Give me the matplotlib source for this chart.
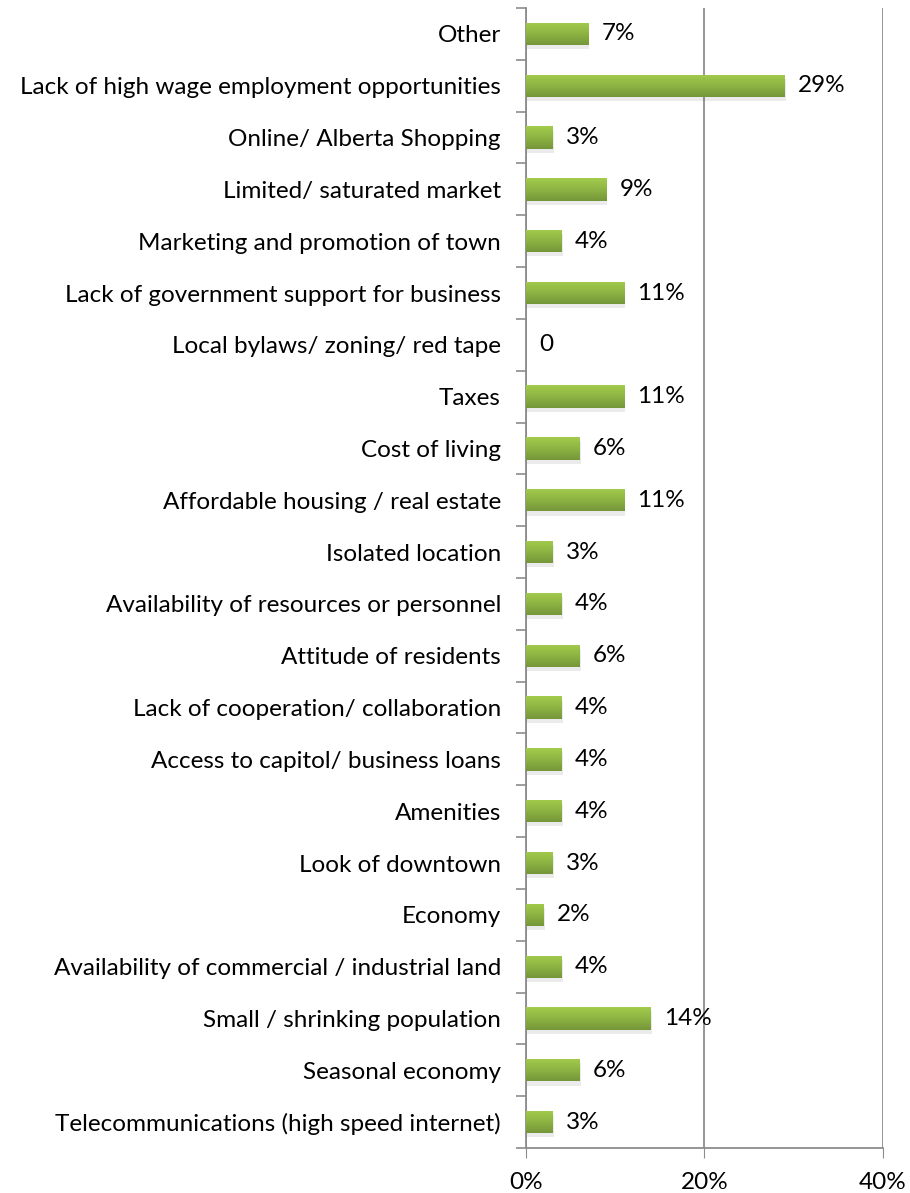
import numpy as np
from matplotlib import pyplot as plt
from matplotlib.colors import LinearSegmentedColormap
from matplotlib.patches import Rectangle

# Survey responses: barriers to business, percent of respondents
categories = [
    "Other",
    "Lack of high wage employment opportunities",
    "Online/ Alberta Shopping",
    "Limited/ saturated market",
    "Marketing and promotion of town",
    "Lack of government support for business",
    "Local bylaws/ zoning/ red tape",
    "Taxes",
    "Cost of living",
    "Affordable housing / real estate",
    "Isolated location",
    "Availability of resources or personnel",
    "Attitude of residents",
    "Lack of cooperation/ collaboration",
    "Access to capitol/ business loans",
    "Amenities",
    "Look of downtown",
    "Economy",
    "Availability of commercial / industrial land",
    "Small / shrinking population",
    "Seasonal economy",
    "Telecommunications (high speed internet)",
]
values = [7, 29, 3, 9, 4, 11, 0, 11, 6, 11, 3, 4, 6, 4, 4, 4, 3, 2, 4, 14, 6, 3]
xticks = [0, 20, 40]

plt.rcParams['font.family'] = ['Lato', 'DejaVu Sans']
fs = 17.5

fig = plt.figure(figsize=(9.1, 11.93), dpi=100)
ax = fig.add_axes([0.578, 0.0377, 0.392, 0.9556])

n = len(categories)
y = np.arange(n)
bar_h = 0.43

# green shading, light on top, darker at the bottom
green = LinearSegmentedColormap.from_list('g', ['#a3cb4c', '#8db443', '#76963a'])
grad = np.linspace(0, 1, 64).reshape(-1, 1)

for yi, v in zip(y, values):
    if v > 0:
        # soft drop shadow
        ax.add_patch(Rectangle((0, yi - bar_h / 2 + 0.08), v + 0.12, bar_h,
                               facecolor='#000000', alpha=0.08, lw=0, zorder=2))
        bar = Rectangle((0, yi - bar_h / 2), v, bar_h, facecolor='none', lw=0, zorder=3)
        ax.add_patch(bar)
        im = ax.imshow(grad, cmap=green, aspect='auto', zorder=3,
                       extent=(0, v, yi + bar_h / 2, yi - bar_h / 2))
        im.set_clip_path(bar)
        label = f"{v}%"
    else:
        label = "0"
    ax.text(v + 1.5, yi, label, va='center', ha='left', fontsize=fs, color='#000000')

ax.set_xlim(0, 40)
ax.set_ylim(n - 0.5, -0.5)
ax.set_xticks(xticks)
ax.set_xticklabels([f"{t}%" for t in xticks], fontsize=fs)
ax.set_yticks(y)
ax.set_yticklabels(categories, fontsize=fs)
ax.tick_params(axis='y', length=0, pad=18)
ax.tick_params(axis='x', length=7, color='#8c8c8c', pad=10)

# category separators on the vertical axis
ax.set_yticks(np.arange(-0.5, n, 1.0), minor=True)
ax.tick_params(axis='y', which='minor', length=7, color='#8c8c8c', width=1.2)

ax.xaxis.grid(True, color='#8c8c8c', lw=1.3)
ax.set_axisbelow(True)
for side in ['top', 'right']:
    ax.spines[side].set_visible(False)
for side in ['left', 'bottom']:
    ax.spines[side].set_color('#8c8c8c')
    ax.spines[side].set_linewidth(1.3)

fig.savefig('out.png', dpi=100)
